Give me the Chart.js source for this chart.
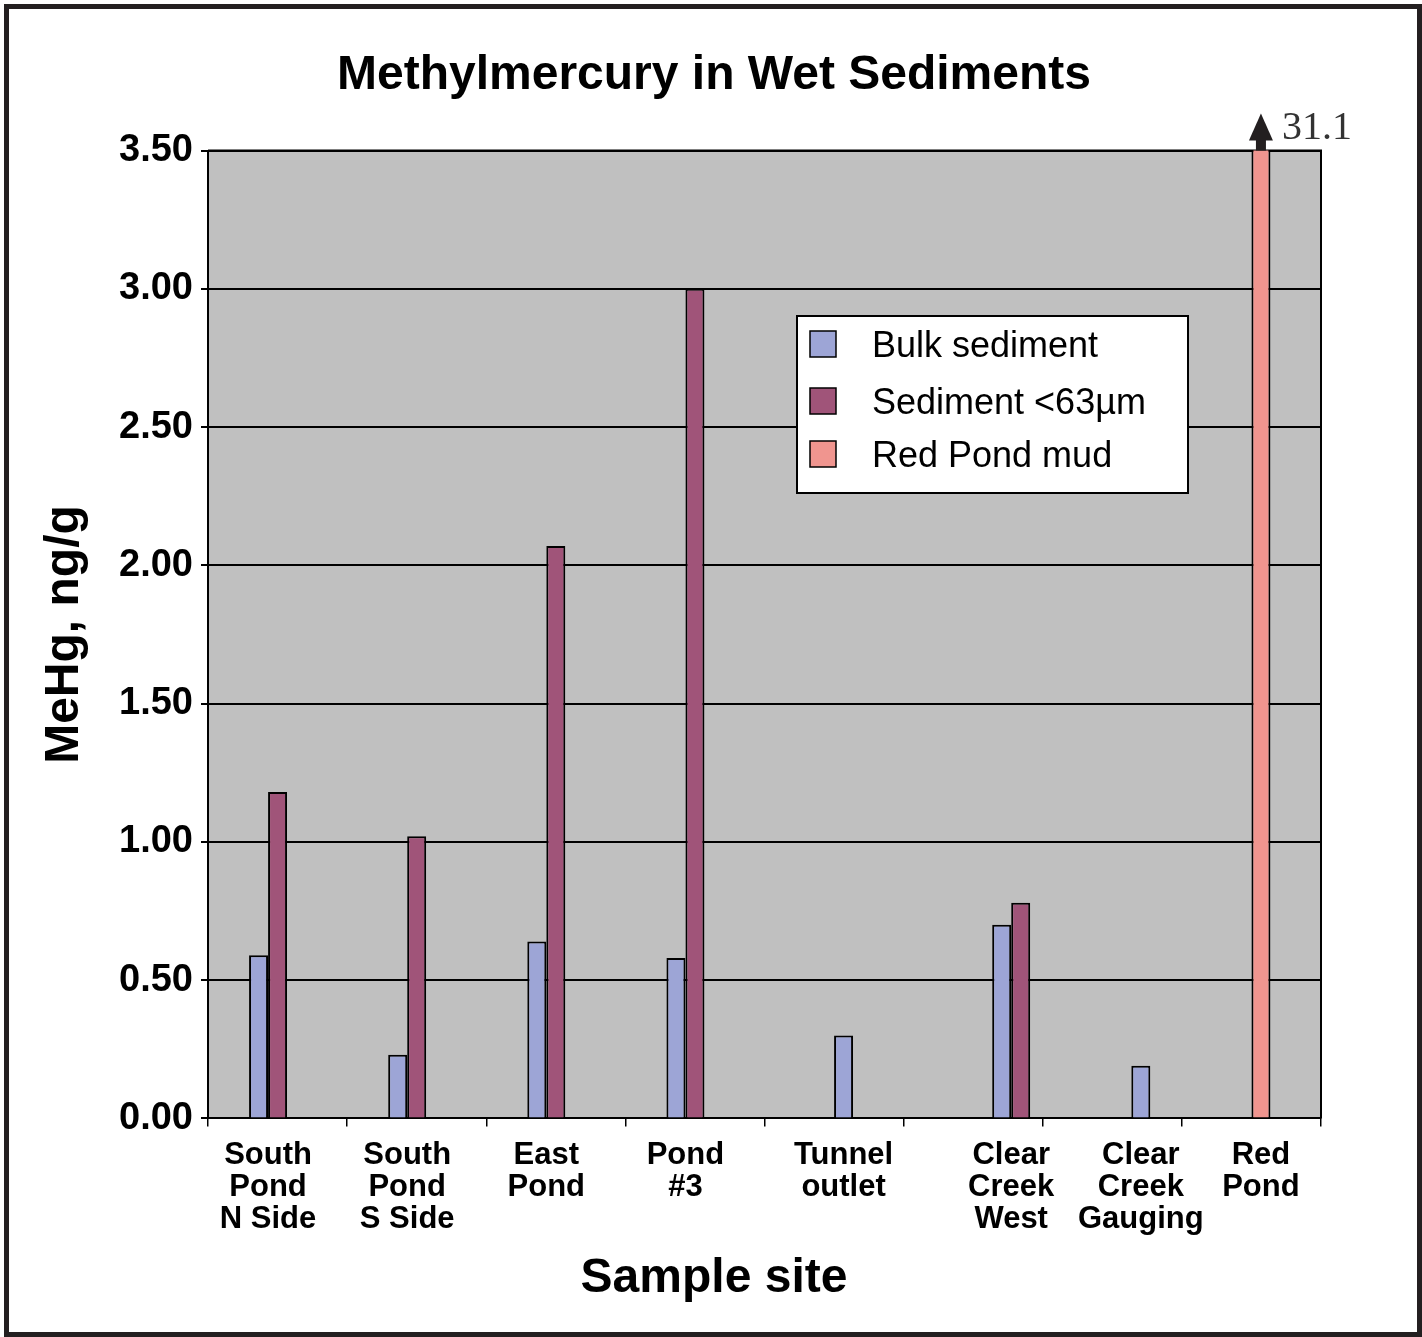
<!DOCTYPE html>
<html>
<head>
<meta charset="utf-8">
<title>Methylmercury in Wet Sediments</title>
<script src="https://cdn.jsdelivr.net/npm/chart.js@4.4.1/dist/chart.umd.min.js"></script>
<style>
  html, body { margin: 0; padding: 0; background: #fff; }
  #wrap { position: relative; width: 1422px; height: 1337px; }
  #frame {
    position: absolute; left: 4px; top: 4px; width: 1418px; height: 1333px;
    box-sizing: border-box; border: 5px solid #231f20; pointer-events: none;
  }
  canvas { position: absolute; left: 0; top: 0; }
</style>
</head>
<body>
<div id="wrap">
  <canvas id="chart" width="1422" height="1337"></canvas>
  <div id="frame"></div>
</div>
<script>
// --- data ---
const sites = [
    ['South', 'Pond', 'N Side'],
    ['South', 'Pond', 'S Side'],
    ['East', 'Pond'],
    ['Pond', '#3'],
    ['Tunnel', 'outlet'],
    ['Clear', 'Creek', 'West'],
    ['Clear', 'Creek', 'Gauging'],
    ['Red', 'Pond']
];
const bulkSediment = [0.59, 0.23, 0.64, 0.58, 0.30, 0.70, 0.19, null];
const fineSediment = [1.18, 1.02, 2.07, 3.00, null, 0.78, null, null];
const redPondMud   = [null, null, null, null, null, null, null, 31.1];
const yTicks = [0, 0.5, 1, 1.5, 2, 2.5, 3, 3.5];

// --- layout: which sub-slot of a category each series sits in (the original
// chart does not put the bars in the same spot for every site) ---
const SLOT_COUNT = 11;
const bulkSlot = [3, 3, 3, 3, 6, 8, 8, null];
const fineSlot = [5, 5, 5, 5, null, 10, null, null];
const redSlot  = [null, null, null, null, null, null, null, 6];

const SERIES = [
    { label: 'Bulk sediment',    values: bulkSediment, slots: bulkSlot, color: '#9da5d6' },
    { label: 'Sediment <63µm',   values: fineSediment, slots: fineSlot, color: '#a05479' },
    { label: 'Red Pond mud',     values: redPondMud,   slots: redSlot,  color: '#f0958f' }
];

const FONT = '"Liberation Sans", Arial, Helvetica, sans-serif';

// one dataset per (series, slot); empty placeholders keep the slot grid
function buildDatasets() {
    const out = [];
    for (let slot = 0; slot < SLOT_COUNT; slot++) {
        let used = false;
        SERIES.forEach(s => {
            if (!s.slots.includes(slot)) return;
            used = true;
            out.push({
                label: s.label,
                stack: 'slot' + slot,
                data: s.values.map((v, i) => s.slots[i] === slot ? v : null),
                backgroundColor: s.color,
                borderColor: '#000',
                borderWidth: 2,
                clip: 0
            });
        });
        if (!used) {
            out.push({ label: '', stack: 'slot' + slot, data: sites.map(() => null), clip: 0 });
        }
    }
    return out;
}

const plotFrame = {
    id: 'plotFrame',
    beforeDraw(chart) {
        const { ctx, chartArea: a } = chart;
        ctx.save();
        ctx.fillStyle = '#fff';
        ctx.fillRect(0, 0, chart.width, chart.height);
        ctx.fillStyle = '#c0c0c0';
        ctx.fillRect(a.left, a.top, a.right - a.left, a.bottom - a.top);
        ctx.restore();
    },
    beforeDatasetsDraw(chart) {
        const { ctx, chartArea: a } = chart;
        ctx.save();
        ctx.strokeStyle = '#000';
        ctx.lineWidth = 2;
        ctx.beginPath();
        ctx.moveTo(a.left, a.top);
        ctx.lineTo(a.right, a.top);
        ctx.lineTo(a.right, a.bottom);
        ctx.stroke();
        ctx.restore();
    }
};

// site names sit under the bars of each site, as in the original
const siteLabels = {
    id: 'siteLabels',
    afterDraw(chart) {
        const { ctx, chartArea: a } = chart;
        ctx.save();
        ctx.font = 'bold 31px ' + FONT;
        ctx.fillStyle = '#000';
        ctx.textAlign = 'center';
        ctx.textBaseline = 'alphabetic';
        sites.forEach((lines, i) => {
            let lo = Infinity, hi = -Infinity;
            chart.data.datasets.forEach((ds, d) => {
                if (ds.data[i] === null) return;
                const bar = chart.getDatasetMeta(d).data[i];
                lo = Math.min(lo, bar.x - bar.width / 2);
                hi = Math.max(hi, bar.x + bar.width / 2);
            });
            const x = isFinite(lo) ? (lo + hi) / 2 : chart.scales.x.getPixelForValue(i);
            lines.forEach((t, k) => ctx.fillText(t, x, a.bottom + 46 + k * 32));
        });
        ctx.restore();
    }
};

const overflowMark = {
    id: 'overflowMark',
    afterDraw(chart) {
        const idx = chart.data.datasets.findIndex(d => d.label === 'Red Pond mud');
        if (idx < 0) return;
        const i = redPondMud.findIndex(v => v !== null);
        const bar = chart.getDatasetMeta(idx).data[i];
        const { ctx, chartArea: a } = chart;
        const x = bar.x;
        ctx.save();
        ctx.fillStyle = '#231f20';
        ctx.fillRect(x - 5, a.top - 11, 10, 11);
        ctx.beginPath();
        ctx.moveTo(x, a.top - 37);
        ctx.lineTo(x - 12, a.top - 10);
        ctx.lineTo(x + 12, a.top - 10);
        ctx.closePath();
        ctx.fill();
        ctx.fillStyle = '#333';
        ctx.font = '40px "Liberation Serif", "Times New Roman", serif';
        ctx.textBaseline = 'alphabetic';
        ctx.textAlign = 'left';
        ctx.fillText(String(redPondMud[i]), x + 21, a.top - 12);
        ctx.restore();
    }
};

const boxLegend = {
    id: 'boxLegend',
    afterDraw(chart) {
        const { ctx } = chart;
        ctx.save();
        ctx.fillStyle = '#fff';
        ctx.fillRect(797, 316, 391, 177);
        ctx.strokeStyle = '#000';
        ctx.lineWidth = 2;
        ctx.strokeRect(797, 316, 391, 177);
        const rows = [357, 414, 467];
        ctx.font = '36px ' + FONT;
        ctx.textBaseline = 'alphabetic';
        SERIES.forEach((s, k) => {
            ctx.fillStyle = s.color;
            ctx.fillRect(810, rows[k] - 26, 26, 26);
            ctx.lineWidth = 1.5;
            ctx.strokeRect(810, rows[k] - 26, 26, 26);
            ctx.fillStyle = '#000';
            ctx.fillText(s.label, 872, rows[k]);
        });
        ctx.restore();
    }
};

new Chart(document.getElementById('chart'), {
    type: 'bar',
    data: { labels: sites, datasets: buildDatasets() },
    plugins: [plotFrame, siteLabels, overflowMark, boxLegend],
    options: {
        responsive: false,
        animation: false,
        categoryPercentage: SLOT_COUNT * 9.5 / 139.1,
        barPercentage: 2,
        layout: { padding: { left: 20, right: 14, top: 10, bottom: 0 } },
        plugins: {
            legend: { display: false },
            tooltip: { enabled: false },
            title: {
                display: true,
                text: 'Methylmercury in Wet Sediments',
                color: '#000',
                font: { family: FONT, size: 48, weight: 'bold' },
                padding: { top: 37, bottom: 46 }
            },
            subtitle: {
                display: true,
                position: 'bottom',
                text: 'Sample site',
                color: '#000',
                font: { family: FONT, size: 48, weight: 'bold' },
                padding: { top: 0, bottom: 29 }
            }
        },
        scales: {
            x: {
                grid: { drawOnChartArea: false, offset: true, tickLength: 8, color: '#000', lineWidth: 1.5 },
                border: { display: true, color: '#000', width: 2 },
                ticks: { display: false, autoSkip: false },
                afterFit(scale) { scale.height = 132; }
            },
            y: {
                min: 0,
                max: 3.5,
                grid: { color: '#000', lineWidth: 2, tickLength: 7 },
                border: { display: true, color: '#000', width: 2 },
                ticks: {
                    color: '#000',
                    padding: 8,
                    font: { family: FONT, size: 38, weight: 'bold' },
                    callback: v => Number(v).toFixed(2)
                },
                afterBuildTicks(scale) { scale.ticks = yTicks.map(v => ({ value: v })); },
                title: {
                    display: true,
                    text: 'MeHg, ng/g',
                    color: '#000',
                    font: { family: FONT, size: 48, weight: 'bold' },
                    padding: { top: 16, bottom: 0 }
                },
                afterFit(scale) { scale.width = 188; }
            },
            yRight: {
                position: 'right',
                display: true,
                grid: { display: false },
                border: { display: false },
                ticks: { display: false },
                afterFit(scale) { scale.width = 87; }
            }
        }
    }
});
</script>
</body>
</html>
